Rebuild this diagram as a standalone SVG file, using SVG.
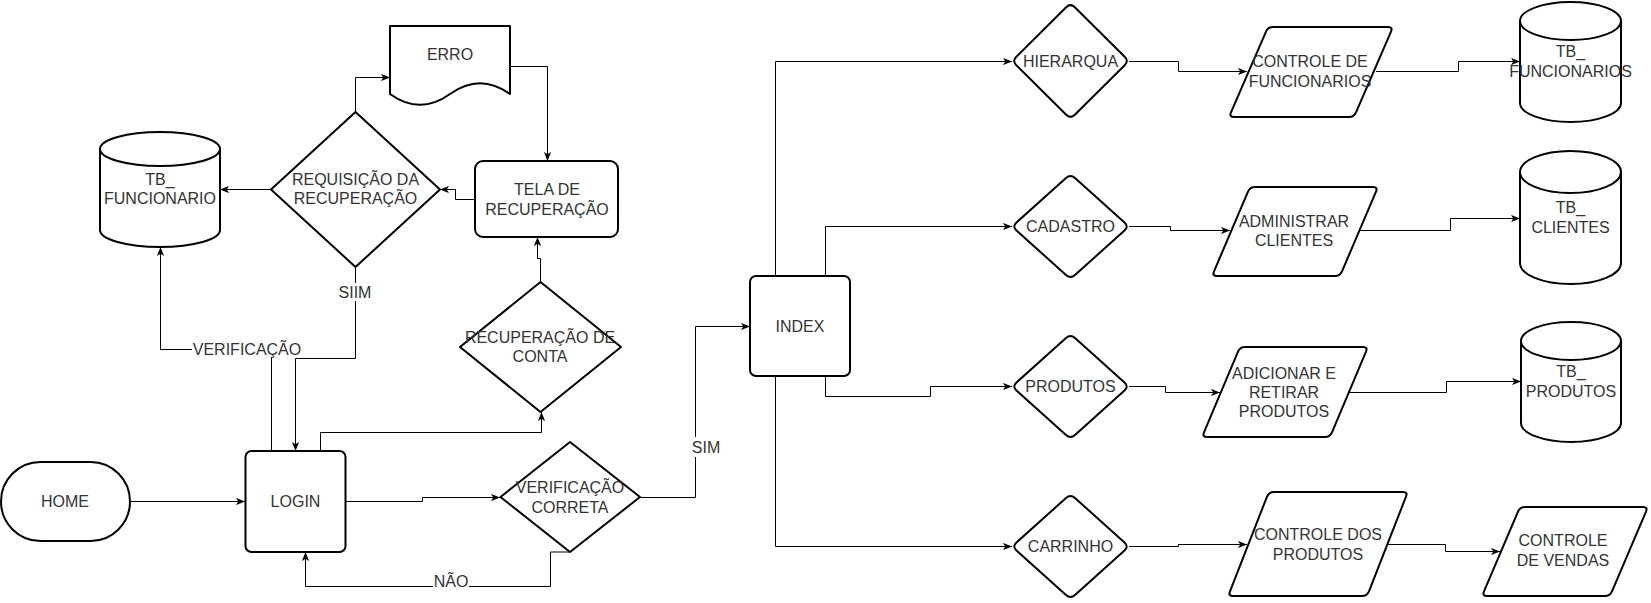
<svg xmlns="http://www.w3.org/2000/svg" width="1651" height="603" viewBox="0 0 1651 603">
<style>
  .shape { fill: #ffffff; stroke: #000000; stroke-width: 2; stroke-linejoin: round; }
  .edge { fill: none; stroke: #000000; stroke-width: 1; }
  .arrow { marker-end: url(#arr); }
  text { font-family: "Liberation Sans", Arial, sans-serif; font-size: 16px; fill: #333333; text-anchor: middle; }
  .lblbg { fill: #ffffff; stroke: none; }
</style>
<defs>
  <marker id="arr" viewBox="0 0 10 8" refX="10" refY="4" markerWidth="9" markerHeight="7.2" markerUnits="userSpaceOnUse" orient="auto">
    <path d="M0,0 L10,4 L0,8 L2.5,4 Z" fill="#000000"/>
  </marker>
</defs>
<rect x="0" y="0" width="1651" height="603" fill="#ffffff"/>

<g id="connectors">
  <path class="edge arrow" d="M130,501.5 L245,501.5"/>
  <path class="edge arrow" d="M345.5,501.5 L422.5,501.5 L422.5,497.5 L500,497.5"/>
  <path class="edge arrow" d="M569.5,552 L550.5,552 L550.5,586.5 L305.5,586.5 L305.5,552"/>
  <path class="edge arrow" d="M320.5,451 L320.5,432.5 L541.5,432.5 L541.5,412"/>
  <path class="edge arrow" d="M540.5,282 L540.5,258.5 L537.5,258.5 L537.5,237"/>
  <path class="edge arrow" d="M475,199.5 L455.5,199.5 L455.5,189.5 L440,189.5"/>
  <path class="edge arrow" d="M355.5,112 L355.5,77.5 L390,77.5"/>
  <path class="edge arrow" d="M510,66.5 L547.5,66.5 L547.5,161"/>
  <path class="edge arrow" d="M271,189.5 L220,189.5"/>
  <path class="edge arrow" d="M355.5,267 L355.5,358.5 L295.5,358.5 L295.5,451"/>
  <path class="edge arrow" d="M271.5,451 L271.5,349.5 L160.5,349.5 L160.5,247"/>
  <path class="edge arrow" d="M640,497.5 L695.5,497.5 L695.5,326.5 L750,326.5"/>
  <path class="edge arrow" d="M775.5,276 L775.5,61.5 L1012,61.5"/>
  <path class="edge arrow" d="M825.5,276 L825.5,226.5 L1012,226.5"/>
  <path class="edge arrow" d="M825.5,376 L825.5,396.5 L930.5,396.5 L930.5,386.5 L1012,386.5"/>
  <path class="edge arrow" d="M775.5,376 L775.5,546.5 L1012,546.5"/>
  <path class="edge arrow" d="M1129,61.5 L1178.5,61.5 L1178.5,71.5 L1247,71.5"/>
  <path class="edge arrow" d="M1376,71.5 L1458.5,71.5 L1458.5,61.5 L1520,61.5"/>
  <path class="edge arrow" d="M1129,226.5 L1170.5,226.5 L1170.5,230.5 L1230,230.5"/>
  <path class="edge arrow" d="M1360,230.5 L1450.5,230.5 L1450.5,218.5 L1520,218.5"/>
  <path class="edge arrow" d="M1129,386.5 L1165.5,386.5 L1165.5,392.5 L1220,392.5"/>
  <path class="edge arrow" d="M1349,392.5 L1446.5,392.5 L1446.5,381.5 L1521,381.5"/>
  <path class="edge arrow" d="M1129,546.5 L1178.5,546.5 L1178.5,544.5 L1247,544.5"/>
  <path class="edge arrow" d="M1388,544.5 L1445.5,544.5 L1445.5,551.5 L1500,551.5"/>

  <rect class="lblbg" x="338" y="283" width="34" height="18"/>
  <text x="355" y="297.5">SIIM</text>
  <rect class="lblbg" x="192" y="341" width="110" height="16"/>
  <text x="247" y="355">VERIFICAÇÃO</text>
  <rect class="lblbg" x="433" y="573" width="36" height="19"/>
  <text x="451" y="587">NÃO</text>
  <rect class="lblbg" x="690" y="437" width="32" height="20"/>
  <text x="706" y="453">SIM</text>
</g>

<g id="node-home">
  <rect class="shape" x="1" y="462" width="129" height="79" rx="39.5" ry="39.5"/>
  <text x="65" y="507">HOME</text>
</g>
<g id="node-login">
  <rect class="shape" x="245.5" y="451" width="100" height="101" rx="6" ry="6"/>
  <text x="295.5" y="507">LOGIN</text>
</g>
<g id="node-verificacao-correta">
  <path class="shape" d="M570,442 L640,497 L570,552 L500.5,497 Z"/>
  <text x="570" y="492.5">VERIFICAÇÃO</text>
  <text x="570" y="512.5">CORRETA</text>
</g>
<g id="node-recuperacao-conta">
  <path class="shape" d="M540.5,282 L621,347 L540.5,412 L460,347 Z"/>
  <text x="540" y="342.5">RECUPERAÇÃO DE</text>
  <text x="540" y="361.5">CONTA</text>
</g>
<g id="node-tela-recuperacao">
  <rect class="shape" x="475" y="161" width="143" height="76" rx="8" ry="8"/>
  <text x="547" y="194.5">TELA DE</text>
  <text x="547" y="214.5">RECUPERAÇÃO</text>
</g>
<g id="node-requisicao">
  <path class="shape" d="M355.5,112 L440,189.5 L355.5,267 L271,189.5 Z"/>
  <text x="355.5" y="184.5">REQUISIÇÃO DA</text>
  <text x="355.5" y="204">RECUPERAÇÃO</text>
</g>
<g id="node-erro">
  <path class="shape" d="M390,26 L510,26 L510,94 Q480,72.4 450,94 Q420,115.6 390,94 Z"/>
  <text x="450" y="59.5">ERRO</text>
</g>
<g id="node-tb-funcionario">
  <path class="shape" d="M100,149 A60,17 0 0 1 220,149 L220,230 A60,17 0 0 1 100,230 Z"/>
  <path class="shape" fill="none" d="M100,149 A60,17 0 0 0 220,149"/>
  <text x="160" y="184.5">TB_</text>
  <text x="160" y="204">FUNCIONARIO</text>
</g>
<g id="node-index">
  <rect class="shape" x="750" y="276" width="100" height="100" rx="6" ry="6"/>
  <text x="800" y="332">INDEX</text>
</g>
<g id="node-hierarqua">
  <path class="shape" d="M1016.3,56.8 L1066.2,7.2 Q1070.5,3 1074.8,7.2 L1124.7,56.8 Q1129,61 1124.7,65.2 L1074.8,114.8 Q1070.5,119 1066.2,114.8 L1016.3,65.2 Q1012,61 1016.3,56.8 Z"/>
  <text x="1070.5" y="67">HIERARQUA</text>
</g>
<g id="node-cadastro">
  <path class="shape" d="M1016.5,222.5 L1066,178 Q1070.5,174 1075,178 L1124.5,222.5 Q1129,226.5 1124.5,230.5 L1075,275 Q1070.5,279 1066,275 L1016.5,230.5 Q1012,226.5 1016.5,222.5 Z"/>
  <text x="1070.5" y="232">CADASTRO</text>
</g>
<g id="node-produtos">
  <path class="shape" d="M1016.5,382.5 L1066,338 Q1070.5,334 1075,338 L1124.5,382.5 Q1129,386.5 1124.5,390.5 L1075,435 Q1070.5,439 1066,435 L1016.5,390.5 Q1012,386.5 1016.5,382.5 Z"/>
  <text x="1070.5" y="392">PRODUTOS</text>
</g>
<g id="node-carrinho">
  <path class="shape" d="M1016.5,542.5 L1066,498 Q1070.5,494 1075,498 L1124.5,542.5 Q1129,546.5 1124.5,550.5 L1075,595 Q1070.5,599 1066,595 L1016.5,550.5 Q1012,546.5 1016.5,542.5 Z"/>
  <text x="1070.5" y="552">CARRINHO</text>
</g>
<g id="node-controle-funcionarios">
  <path class="shape" d="M1273,27 L1388,27 Q1393,27 1391,31.6 L1356,112.4 Q1354,117 1349,117 L1234,117 Q1229,117 1231,112.4 L1266,31.6 Q1268,27 1273,27 Z"/>
  <text x="1310" y="67">CONTROLE DE</text>
  <text x="1310" y="86.5">FUNCIONARIOS</text>
</g>
<g id="node-administrar-clientes">
  <path class="shape" d="M1255,187 L1373,187 Q1378,187 1376,191.6 L1342,271.4 Q1340,276 1335,276 L1217,276 Q1212,276 1214,271.4 L1248,191.6 Q1250,187 1255,187 Z"/>
  <text x="1294" y="226.5">ADMINISTRAR</text>
  <text x="1294" y="246">CLIENTES</text>
</g>
<g id="node-adicionar-produtos">
  <path class="shape" d="M1245,347 L1363,347 Q1368,347 1366,351.6 L1332,432.4 Q1330,437 1325,437 L1207,437 Q1202,437 1204,432.4 L1238,351.6 Q1240,347 1245,347 Z"/>
  <text x="1284" y="378.5">ADICIONAR E</text>
  <text x="1284" y="397.5">RETIRAR</text>
  <text x="1284" y="416.5">PRODUTOS</text>
</g>
<g id="node-controle-produtos">
  <path class="shape" d="M1274,492 L1403,492 Q1408,492 1406,496.6 L1369,591.4 Q1367,596 1362,596 L1233,596 Q1228,596 1230,591.4 L1267,496.6 Q1269,492 1274,492 Z"/>
  <text x="1318" y="539.5">CONTROLE DOS</text>
  <text x="1318" y="559.5">PRODUTOS</text>
</g>
<g id="node-controle-vendas">
  <path class="shape" d="M1525,507 L1643,507 Q1648,507 1646,511.6 L1612,591.4 Q1610,596 1605,596 L1487,596 Q1482,596 1484,591.4 L1518,511.6 Q1520,507 1525,507 Z"/>
  <text x="1563" y="546">CONTROLE</text>
  <text x="1563" y="566">DE VENDAS</text>
</g>
<g id="node-tb-funcionarios">
  <path class="shape" d="M1520,21 A50.5,19 0 0 1 1621,21 L1621,103 A50.5,19 0 0 1 1520,103 Z"/>
  <path class="shape" fill="none" d="M1520,21 A50.5,19 0 0 0 1621,21"/>
  <text x="1570.5" y="57">TB_</text>
  <text x="1570.5" y="76.5">FUNCIONARIOS</text>
</g>
<g id="node-tb-clientes">
  <path class="shape" d="M1520,172 A50.5,21 0 0 1 1621,172 L1621,263 A50.5,21 0 0 1 1520,263 Z"/>
  <path class="shape" fill="none" d="M1520,172 A50.5,21 0 0 0 1621,172"/>
  <text x="1570.5" y="212.5">TB_</text>
  <text x="1570.5" y="232.5">CLIENTES</text>
</g>
<g id="node-tb-produtos">
  <path class="shape" d="M1521,341 A50,19 0 0 1 1621,341 L1621,423 A50,19 0 0 1 1521,423 Z"/>
  <path class="shape" fill="none" d="M1521,341 A50,19 0 0 0 1621,341"/>
  <text x="1571" y="377">TB_</text>
  <text x="1571" y="396.5">PRODUTOS</text>
</g>
</svg>
